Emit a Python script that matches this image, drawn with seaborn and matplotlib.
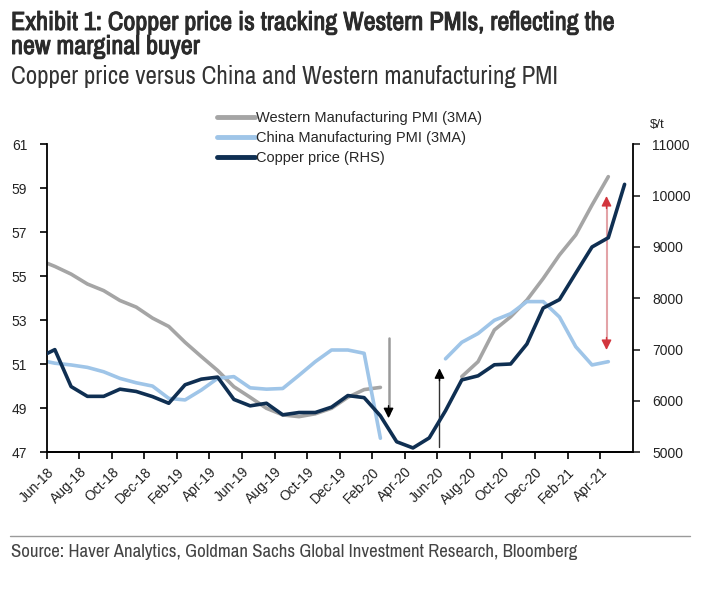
import numpy as np
import pandas as pd
import matplotlib
matplotlib.use("Agg")
import matplotlib.pyplot as plt
import seaborn as sns
from matplotlib import font_manager
from matplotlib import patheffects
from matplotlib.lines import Line2D

# monthly points (plotted mid-month), May-18 is only there so the lines run into the left edge
months = ["May-18", "Jun-18", "Jul-18", "Aug-18", "Sep-18", "Oct-18", "Nov-18", "Dec-18",
          "Jan-19", "Feb-19", "Mar-19", "Apr-19", "May-19", "Jun-19", "Jul-19", "Aug-19",
          "Sep-19", "Oct-19", "Nov-19", "Dec-19", "Jan-20", "Feb-20", "Mar-20", "Apr-20",
          "May-20", "Jun-20", "Jul-20", "Aug-20", "Sep-20", "Oct-20", "Nov-20", "Dec-20",
          "Jan-21", "Feb-21", "Mar-21", "Apr-21", "May-21"]
nan = np.nan
western_pmi = [55.75, 55.45, 55.1, 54.65, 54.35, 53.9, 53.6, 53.1,
               52.72, 52.0, 51.35, 50.72, 49.98, 49.5, 49.0, 48.7,
               48.62, 48.75, 49.0, 49.5, 49.85, 49.95, nan, nan,
               nan, nan, 50.44, 51.12, 52.56, 53.16, 53.92, 54.9,
               55.97, 56.88, 58.24, 59.53, nan]
china_pmi = [51.2, 51.05, 50.97, 50.86, 50.66, 50.36, 50.16, 50.01,
             49.45, 49.38, 49.83, 50.36, 50.44, 49.93, 49.87, 49.9,
             50.5, 51.12, 51.65, 51.65, 51.5, 47.64, nan, nan,
             nan, 51.25, 52.0, 52.4, 53.0, 53.3, 53.85, 53.85,
             53.15, 51.8, 50.97, 51.12, nan]
copper = [6842, 7000, 6280, 6090, 6090, 6230, 6185, 6085,
          5955, 6315, 6425, 6465, 6030, 5905, 5955, 5730,
          5775, 5775, 5880, 6105, 6065, 5710, 5205, 5085,
          5280, 5810, 6410, 6490, 6705, 6720, 7110, 7810,
          7975, 8490, 9000, 9180, 10220]
tick_labels = ["Jun-18", "Aug-18", "Oct-18", "Dec-18", "Feb-19", "Apr-19", "Jun-19", "Aug-19",
               "Oct-19", "Dec-19", "Feb-20", "Apr-20", "Jun-20", "Aug-20", "Oct-20", "Dec-20",
               "Feb-21", "Apr-21"]
series_names = ["Western Manufacturing PMI (3MA)", "China Manufacturing PMI (3MA)", "Copper price (RHS)"]

# annotation arrows (x in months from Jun-18, y in PMI units)
grey_arrow = (21.0, 52.18, 48.55)
black_arrow = (24.13, 47.25, 50.82)
red_arrow = (34.39, 51.65, 58.65)

c_west = "#a5a5a5"
c_china = "#9fc5e8"
c_copper = "#0f2f52"

sns.set_style("ticks")
plt.rcParams["font.family"] = ["Liberation Sans", "DejaVu Sans"]

fonts = font_manager.fontManager.ttflist
narrow = sorted({f.name for f in fonts if "Narrow" in f.name or "Condensed" in f.name})
head_font = [narrow[0], "Liberation Sans"] if narrow else ["Liberation Sans"]
has_bold = any(f.name == head_font[0] and f.weight in (600, 700, 800, "bold", "semibold") for f in fonts)
# fake the bold with a thin stroke if the narrow family has no bold face
bold_fx = [] if has_bold else [patheffects.withStroke(linewidth=0.7, foreground="#2b2b2b")]

fig = plt.figure(figsize=(7.01, 5.89), dpi=100)
ax = fig.add_axes([0.0666, 0.2321, 0.836, 0.5229])
ax2 = ax.twinx()

x = np.arange(len(months)) - 0.5
for vals, col, axis in [(western_pmi, c_west, ax), (china_pmi, c_china, ax), (copper, c_copper, ax2)]:
    d = pd.DataFrame({"x": x, "y": vals})
    d["seg"] = d["y"].isna().cumsum()
    sns.lineplot(data=d, x="x", y="y", units="seg", estimator=None, color=col,
                 lw=2.6, ax=axis, legend=False)

ax.set_xlim(0, 36)
ax.set_ylim(47, 61)
ax.set_yticks(range(47, 62, 2))
ax2.set_ylim(5000, 11000)
ax2.set_yticks(range(5000, 11001, 1000))
tick_pos = [months.index(t) - 1 for t in tick_labels]
ax.set_xticks(tick_pos)
ax.set_xticklabels(tick_labels, rotation=45, ha="right", va="top", rotation_mode="anchor")
for a in (ax, ax2):
    a.set_xlabel("")
    a.set_ylabel("")
    a.spines["top"].set_visible(False)
    for s in a.spines.values():
        s.set_linewidth(1.3)
        s.set_color("black")
ax.spines["right"].set_visible(False)
ax2.spines["left"].set_visible(False)
ax.tick_params(axis="both", length=5, width=1.2, labelsize=10, colors="black", labelcolor="#222222")
ax.tick_params(axis="y", pad=9)
ax.tick_params(axis="x", pad=4)
ax2.tick_params(axis="y", length=5, width=1.2, labelsize=10, pad=9, labelcolor="#222222")


def head(xv, yv, up, color):
    ax.annotate("", xy=(xv, yv), xytext=(0, -9 if up else 9), textcoords="offset points",
                arrowprops=dict(arrowstyle="-|>", color=color, lw=1, mutation_scale=15,
                                shrinkA=0, shrinkB=0))


gx, gtop, gtip = grey_arrow
ax.plot([gx, gx], [gtop, gtip + 0.2], color="#9a9a9a", lw=1.8)
head(gx, gtip, False, "black")

bx, bbot, btip = black_arrow
ax.plot([bx, bx], [bbot, btip - 0.2], color="#333333", lw=1)
head(bx, btip, True, "black")

rx, rbot, rtop = red_arrow
ax.plot([rx, rx], [rbot + 0.2, rtop - 0.2], color="#e3a3a7", lw=1.5)
head(rx, rtop, True, "#d2353d")
head(rx, rbot, False, "#d2353d")

handles = [Line2D([], [], color=c, lw=3.5) for c in (c_west, c_china, c_copper)]
fig.legend(handles, series_names, loc="upper left", bbox_to_anchor=(0.309, 0.812),
           frameon=False, fontsize=10.5, handlelength=2.6, handletextpad=0.1,
           labelspacing=0.42, borderpad=0, borderaxespad=0)

fig.text(650 / 701, 1 - 125 / 589, r"\$/t", fontsize=9.5, ha="left", va="center", color="#222222")

renderer = fig.canvas.get_renderer()


def fit(t, width_px):
    w = t.get_window_extent(renderer=renderer).width
    t.set_fontsize(t.get_fontsize() * width_px / w)


t1 = fig.text(11 / 701, 1 - 30 / 589, "Exhibit 1: Copper price is tracking Western PMIs, reflecting the",
              family=head_font, weight="bold", fontsize=16, color="#2b2b2b", va="baseline",
              path_effects=bold_fx)
fit(t1, 605)
t2 = fig.text(11 / 701, 1 - 54 / 589, "new marginal buyer", family=head_font, weight="bold",
              fontsize=t1.get_fontsize(), color="#2b2b2b", va="baseline", path_effects=bold_fx)
t3 = fig.text(11 / 701, 1 - 84 / 589, "Copper price versus China and Western manufacturing PMI",
              family=head_font, fontsize=16, color="#333333", va="baseline")
fit(t3, 550)
t4 = fig.text(11 / 701, 1 - 557.5 / 589,
              "Source: Haver Analytics, Goldman Sachs Global Investment Research, Bloomberg",
              family=head_font, fontsize=12, color="#444444", va="baseline")
fit(t4, 566)

fig.add_artist(Line2D([10 / 701, 690 / 701], [1 - 536 / 589] * 2, color="#9a9a9a", lw=1))

fig.savefig("out.png", dpi=100, facecolor="white")
